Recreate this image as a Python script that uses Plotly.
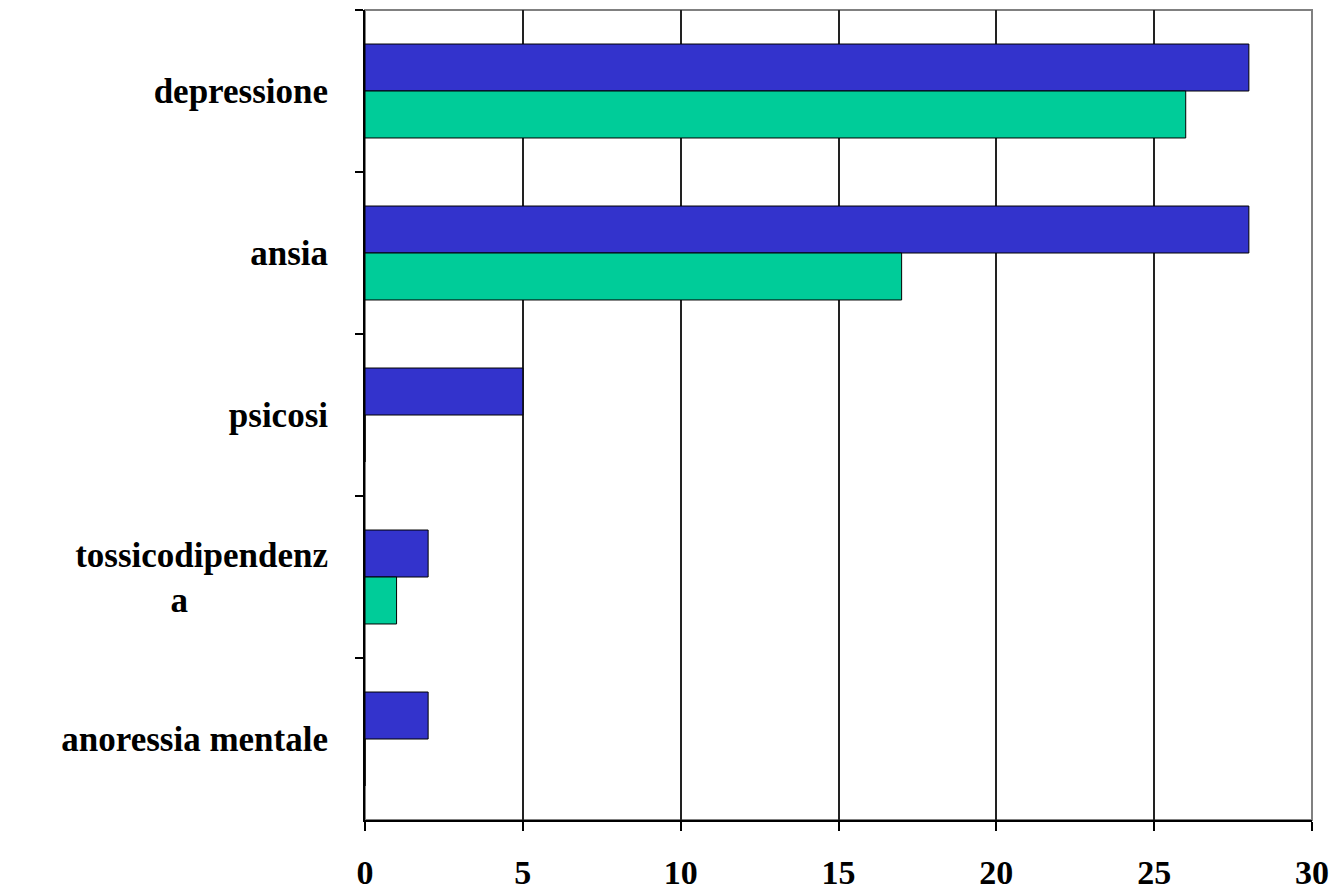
import plotly.graph_objects as go

NBSP = "\u00a0"
categories = ["depressione", "ansia", "psicosi", "tossicodipendenz<br>a" + NBSP * 16, "anoressia mentale"]
series_a = [28, 28, 5, 2, 2]
series_b = [26, 17, 0, 1, 0]
x_ticks = [0, 5, 10, 15, 20, 25, 30]

fig = go.Figure()
fig.add_trace(go.Bar(y=categories, x=series_a, orientation="h", name="A",
                     marker=dict(color="#3333CC", line=dict(color="black", width=1))))
fig.add_trace(go.Bar(y=categories, x=series_b, orientation="h", name="B",
                     marker=dict(color="#00CC99", line=dict(color="black", width=1))))

fig.update_layout(
    width=1327, height=883,
    margin=dict(l=357, r=23, t=2, b=71, autoexpand=False),
    paper_bgcolor="white", plot_bgcolor="white",
    barmode="group", bargap=0.42, bargroupgap=0,
    showlegend=False,
    font=dict(family="Liberation Serif, Times New Roman, serif", size=30, color="black"),
    shapes=[dict(type="rect", xref="paper", yref="paper", x0=0, y0=0, x1=1, y1=1,
                 line=dict(color="#808080", width=2), layer="below")],
)
fig.update_xaxes(range=[0, 30], tickvals=x_ticks, showgrid=True, gridcolor="#222222", gridwidth=1.5,
                 showline=True, linecolor="black", linewidth=2, ticks="outside", ticklen=9,
                 tickcolor="black", tickwidth=1.5, zeroline=False, automargin=False,
                 tickfont=dict(family="Liberation Serif, serif", size=34, color="black", weight="bold"),
                 ticklabelstandoff=12)
fig.update_yaxes(autorange="reversed", showline=True, linecolor="black", linewidth=2,
                 ticks="outside", ticklen=8, tickcolor="black", tickwidth=1.5,
                 tickson="boundaries", showgrid=False, automargin=False,
                 tickfont=dict(family="Liberation Serif, serif", size=35, color="black", weight="bold"),
                 ticklabelstandoff=28)

fig.write_html("out.html")
